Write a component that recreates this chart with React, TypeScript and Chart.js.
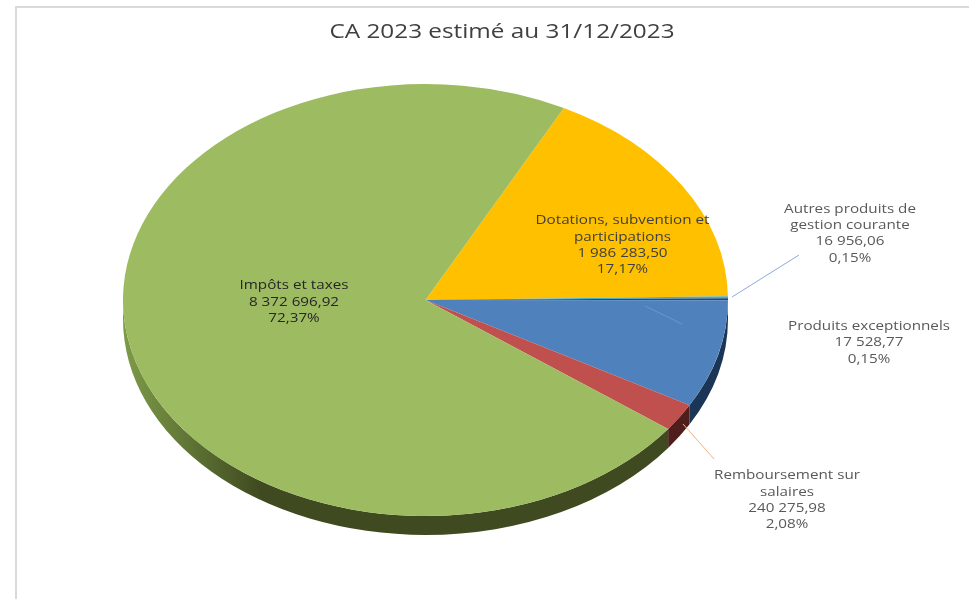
import { useEffect, useRef } from "react";
import { Chart, registerables } from "chart.js";

Chart.register(...registerables);

// Budget lines, clockwise from the top of the pie.
const categories = [
  "Dotations, subvention et\nparticipations",
  "Autres produits de\ngestion courante",
  "Produits exceptionnels",
  "Ventes et prestations",
  "Remboursement sur\nsalaires",
  "Impôts et taxes",
];
const amounts = [1986283.5, 16956.06, 17528.77, 935551, 240275.98, 8372696.92];
const sliceColors = ["#FFC000", "#4BACC6", "#1F497D", "#4F81BD", "#C0504D", "#9DBB61"];
const wallColors = ["#7F6000", "#255A66", "#10253F", "#1B3556", "#4F1D1C", "#3F4A20"];

// Whether a slice prints its caption, where the block is centred, and its ink.
const captionShown = [true, true, true, false, true, true];
const captionCentres = [
  [622.5, 245],
  [850, 233.5],
  [869, 342.5],
  [0, 0],
  [787, 500],
  [294, 302],
];
const captionInks = ["#404040", "#595959", "#595959", "#595959", "#595959", "#262626"];

const TITLE = "CA 2023 estimé au 31/12/2023";
const FIRST_SLICE_ANGLE = 27.2;

// Pie projection: a squashed disc sitting on a shallow wall.
const RADIUS = 302.5;
const SQUASH = 216 / 302.5;
const WALL = 19;
const PIE_X = 425.5;
const PIE_Y = 300;

// Text is set wide, as in a chart image stretched sideways.
const LABEL_FONT = '13px "Open Sans"';
const LABEL_STRETCH = 1.17;
const LINE_HEIGHT = 16.4;
const TITLE_FONT = '20px "Open Sans"';
const TITLE_STRETCH = 1.215;

const total = amounts.reduce((a, b) => a + b, 0);
const formatAmount = (v: number) => {
  const [whole, cents] = v.toFixed(2).split(".");
  return whole.replace(/\B(?=(\d{3})+$)/g, " ") + "," + cents;
};
const formatShare = (v: number) => ((v / total) * 100).toFixed(2).replace(".", ",") + "%";

const drawWideText = (ctx: any, text: string, x: number, y: number, stretch: number) => {
  ctx.save();
  ctx.translate(x, y);
  ctx.scale(stretch, 1);
  ctx.fillText(text, 0, 0);
  ctx.restore();
};

const piePlugin = {
  id: "tiltedPie",
  beforeDraw(chart: any) {
    const { ctx, width, height } = chart;
    ctx.save();
    ctx.fillStyle = "#ffffff";
    ctx.fillRect(0, 0, width, height);
    // Chart frame, running off the top-right and the bottom of the page.
    ctx.strokeStyle = "#D9D9D9";
    ctx.lineWidth = 2;
    ctx.beginPath();
    ctx.moveTo(16, height);
    ctx.lineTo(16, 7);
    ctx.lineTo(width, 7);
    ctx.stroke();
    ctx.restore();
  },
  beforeDatasetsDraw(chart: any) {
    const { ctx } = chart;
    const arcs = chart.getDatasetMeta(0).data;
    const cx = arcs[0].x;
    const cy = arcs[0].y;

    // Front wall, following the lower half of each slice.
    ctx.save();
    arcs.forEach((arc: any, i: number) => {
      const segments = [
        [arc.startAngle, arc.endAngle],
        [arc.startAngle - 2 * Math.PI, arc.endAngle - 2 * Math.PI],
      ];
      segments.forEach(([from, to]) => {
        const start = Math.max(from, 0);
        const end = Math.min(to, Math.PI);
        if (end <= start) return;
        ctx.beginPath();
        ctx.ellipse(PIE_X, PIE_Y, RADIUS, RADIUS * SQUASH, 0, start, end);
        ctx.ellipse(PIE_X, PIE_Y + WALL, RADIUS, RADIUS * SQUASH, 0, end, start, true);
        ctx.closePath();
        if (i === arcs.length - 1) {
          const shade = ctx.createLinearGradient(PIE_X - RADIUS, 0, PIE_X - 165, 0);
          shade.addColorStop(0, "#7E9B48");
          shade.addColorStop(1, wallColors[i]);
          ctx.fillStyle = shade;
        } else {
          ctx.fillStyle = wallColors[i];
        }
        ctx.fill();
      });
    });
    ctx.restore();

    // Slices are laid out as a circle and projected onto the disc.
    ctx.save();
    ctx.translate(PIE_X, PIE_Y);
    ctx.scale(1, SQUASH);
    ctx.translate(-cx, -cy);
  },
  afterDatasetsDraw(chart: any) {
    const { ctx } = chart;
    ctx.restore();

    // Leader lines.
    const leaders: [number, number, number, number, string][] = [
      [645, 306, 682, 324, "#6C96CC"],
      [732, 297, 799, 255, "#8EAADB"],
      [683, 424, 714, 459, "#F4B183"],
    ];
    ctx.save();
    ctx.lineWidth = 1;
    leaders.forEach(([x1, y1, x2, y2, color]) => {
      ctx.strokeStyle = color;
      ctx.beginPath();
      ctx.moveTo(x1, y1);
      ctx.lineTo(x2, y2);
      ctx.stroke();
    });

    ctx.textAlign = "center";
    ctx.textBaseline = "middle";

    // Heading.
    ctx.font = TITLE_FONT;
    ctx.fillStyle = "#404040";
    drawWideText(ctx, TITLE, 502, 32, TITLE_STRETCH);

    // Captions: category name, amount, share.
    ctx.font = LABEL_FONT;
    categories.forEach((name, i) => {
      if (!captionShown[i]) return;
      const lines = [...name.split("\n"), formatAmount(amounts[i]), formatShare(amounts[i])];
      const [x, y] = captionCentres[i];
      ctx.fillStyle = captionInks[i];
      lines.forEach((line, k) => {
        drawWideText(ctx, line, x, y + (k - (lines.length - 1) / 2) * LINE_HEIGHT, LABEL_STRETCH);
      });
    });
    ctx.restore();
  },
};

export default function App() {
  const canvasRef = useRef<HTMLCanvasElement>(null);

  useEffect(() => {
    document.body.style.margin = "0";
    const chart = new Chart(canvasRef.current!, {
      type: "pie",
      data: {
        labels: categories,
        datasets: [
          {
            data: amounts,
            backgroundColor: sliceColors,
            borderWidth: 0,
            clip: false,
          } as any,
        ],
      },
      options: {
        animation: false,
        responsive: false,
        rotation: FIRST_SLICE_ANGLE,
        radius: RADIUS,
        plugins: {
          legend: { display: false },
          tooltip: { enabled: false },
        },
      } as any,
      plugins: [piePlugin],
    });
    return () => chart.destroy();
  }, []);

  return (
    <div style={{ width: 969, height: 599 }}>
      <canvas ref={canvasRef} width={969} height={599} style={{ display: "block" }} />
    </div>
  );
}
